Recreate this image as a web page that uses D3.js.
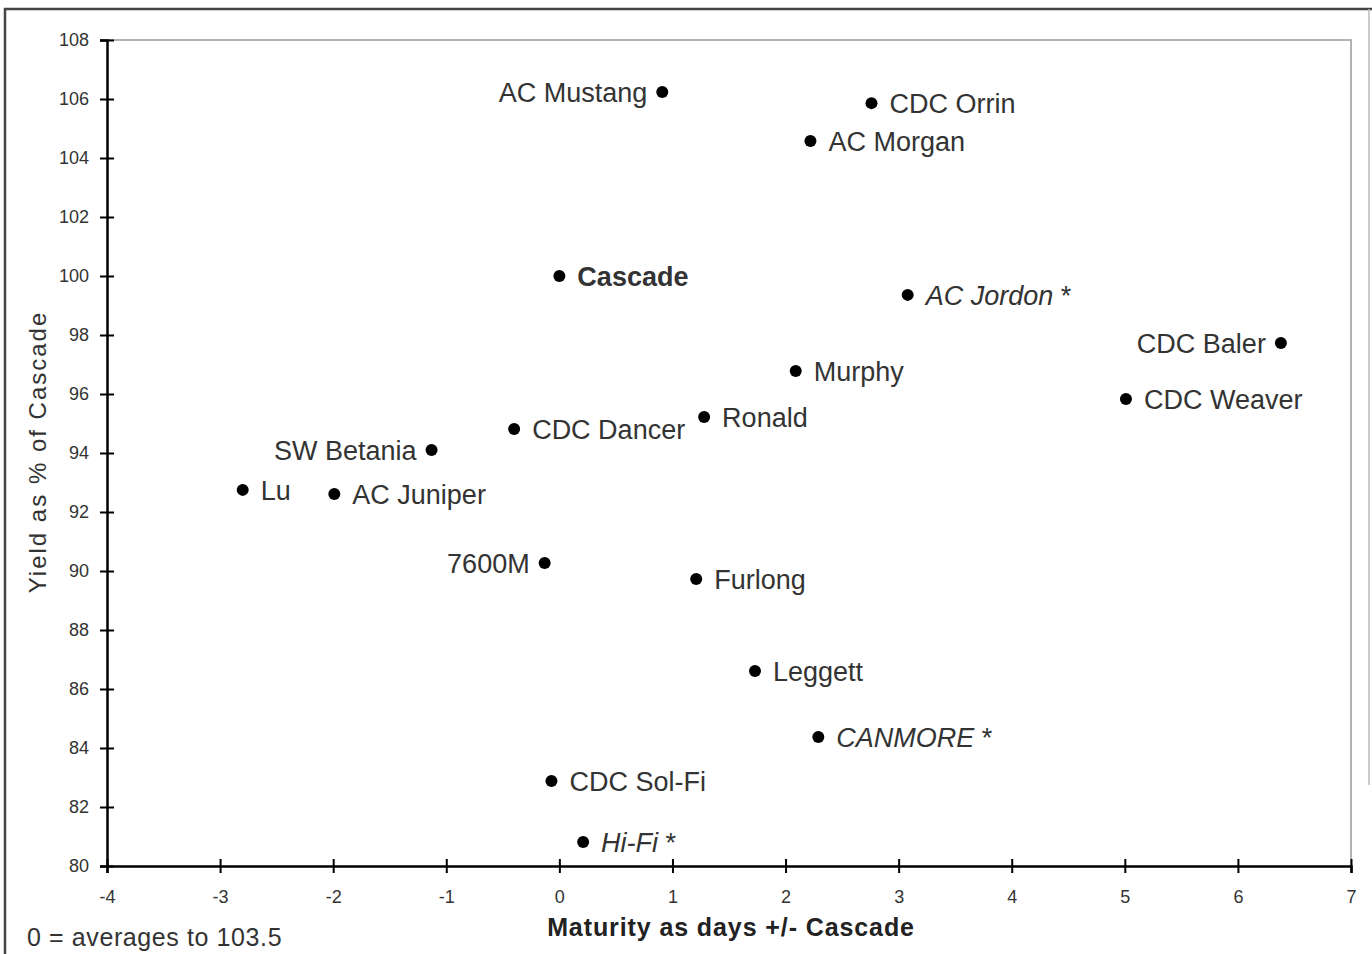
<!DOCTYPE html>
<html>
<head>
<meta charset="utf-8">
<script src="https://cdn.jsdelivr.net/npm/d3@7"></script>
<style>
  body { margin: 0; background: #fff; }
  svg { display: block; font-family: "Liberation Sans", Arial, sans-serif; }
  .tick text { fill: #333; font-size: 18px; }
  .pt-label { fill: #333; font-size: 27px; }
</style>
</head>
<body>
<script>
// variety names, maturity (days +/- Cascade), yield (% of Cascade)
const varieties = ["AC Mustang", "CDC Orrin", "AC Morgan", "Cascade", "AC Jordon", "CDC Baler",
  "Murphy", "CDC Weaver", "Ronald", "CDC Dancer", "SW Betania", "Lu", "AC Juniper", "7600M",
  "Furlong", "Leggett", "CANMORE", "CDC Sol-Fi", "Hi-Fi"];
const maturity = [0.91, 2.76, 2.22, 0, 3.08, 6.38, 2.09, 5.01, 1.28, -0.40, -1.13, -2.80, -1.99, -0.13,
  1.21, 1.73, 2.29, -0.07, 0.21];
const yieldPct = [106.24, 105.86, 104.58, 100, 99.36, 97.73, 96.78, 95.83, 95.22, 94.81, 94.10, 92.75,
  92.61, 90.27, 89.73, 86.61, 84.37, 82.88, 80.81];
const xTicks = [-4, -3, -2, -1, 0, 1, 2, 3, 4, 5, 6, 7];
const yTicks = [80, 82, 84, 86, 88, 90, 92, 94, 96, 98, 100, 102, 104, 106, 108];

// label styling groups
const leftLabels = ["AC Mustang", "CDC Baler", "SW Betania", "7600M"];
const italicStarred = ["AC Jordon", "CANMORE", "Hi-Fi"];
const boldLabels = ["Cascade"];

const data = varieties.map((name, i) => ({ name, x: maturity[i], y: yieldPct[i] }));

const width = 1372, height = 954;
const margin = { top: 40, right: 21, bottom: 88, left: 107 };

const svg = d3.select("body").append("svg")
  .attr("width", width)
  .attr("height", height);

// outer frame
svg.append("path")
  .attr("d", `M5,${height} V9 H${width}`)
  .attr("fill", "none")
  .attr("stroke", "#444")
  .attr("stroke-width", 2.5);
svg.append("line")
  .attr("x1", width - 3).attr("x2", width - 3)
  .attr("y1", 9).attr("y2", 785)
  .attr("stroke", "#bbb")
  .attr("stroke-width", 1.5);

const x = d3.scaleLinear().domain([-4, 7]).range([margin.left, width - margin.right]);
const y = d3.scaleLinear().domain([80, 108]).range([height - margin.bottom, margin.top]);

// plot area top/right border
svg.append("path")
  .attr("d", `M${x(-4)},${y(108)} H${x(7)} V${y(80)}`)
  .attr("fill", "none")
  .attr("stroke", "#999")
  .attr("stroke-width", 1.5);

// axes with ticks crossing the line
const xAxisG = svg.append("g")
  .attr("transform", `translate(0,${y(80)})`)
  .call(d3.axisBottom(x).tickValues(xTicks).tickSize(7).tickPadding(21).tickFormat(d => d));
xAxisG.selectAll(".tick line").attr("y1", -7);

const yAxisG = svg.append("g")
  .attr("transform", `translate(${x(-4)},0)`)
  .call(d3.axisLeft(y).tickValues(yTicks).tickSize(7).tickPadding(11).tickFormat(d => d));
yAxisG.selectAll(".tick line").attr("x1", 7);

svg.selectAll(".domain").attr("stroke", "#000").attr("stroke-width", 2.5);
svg.selectAll(".tick line").attr("stroke", "#000").attr("stroke-width", 2);
xAxisG.selectAll(".tick text").attr("dy", "0.5em");

// axis titles
svg.append("text")
  .attr("x", 731).attr("y", 936)
  .attr("text-anchor", "middle")
  .attr("font-size", 25).attr("font-weight", "bold").attr("fill", "#222")
  .attr("letter-spacing", 0.9)
  .text("Maturity as days +/- Cascade");

svg.append("text")
  .attr("transform", `translate(46,452) rotate(-90)`)
  .attr("text-anchor", "middle")
  .attr("font-size", 24).attr("fill", "#333")
  .attr("letter-spacing", 2)
  .text("Yield as % of Cascade");

svg.append("text")
  .attr("x", 27).attr("y", 946)
  .attr("font-size", 25).attr("fill", "#333")
  .attr("letter-spacing", 0.6)
  .text("0 = averages to 103.5");

// points
const pts = svg.append("g").selectAll("g")
  .data(data)
  .join("g")
  .attr("transform", d => `translate(${x(d.x)},${y(d.y)})`);

pts.append("circle")
  .attr("r", 6)
  .attr("fill", "#000");

const labels = pts.append("text")
  .attr("class", "pt-label")
  .attr("x", d => leftLabels.includes(d.name) ? -15 : 18)
  .attr("dy", "0.36em")
  .attr("text-anchor", d => leftLabels.includes(d.name) ? "end" : "start")
  .attr("font-weight", d => boldLabels.includes(d.name) ? "bold" : null);

labels.append("tspan")
  .attr("font-style", d => italicStarred.includes(d.name) ? "italic" : null)
  .text(d => d.name);
labels.filter(d => italicStarred.includes(d.name))
  .append("tspan")
  .text(" *");
</script>
</body>
</html>
